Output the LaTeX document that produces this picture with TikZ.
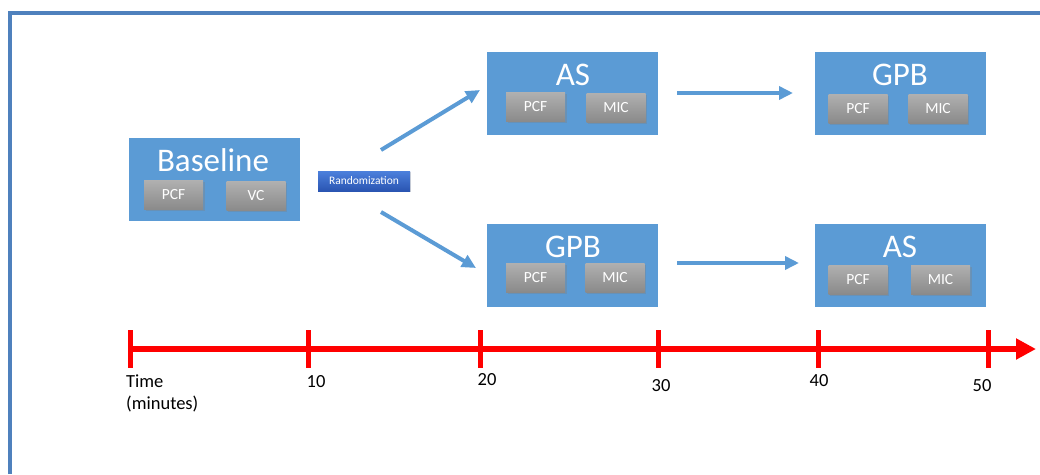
\documentclass[tikz,border=0pt]{standalone}
\usepackage{fontspec}
\setmainfont{Carlito}
\usetikzlibrary{arrows.meta,shadows}

\definecolor{panel}{HTML}{5B9BD5}
\definecolor{frameblue}{HTML}{4F81BD}
\definecolor{graytop}{HTML}{B0B0B0}
\definecolor{graybot}{HTML}{8A8A8A}
\definecolor{randtop}{HTML}{4C80DC}
\definecolor{randbot}{HTML}{2A55B2}

\begin{document}
\begin{tikzpicture}[x=1pt,y=-1pt,
  arm/.style={fill=panel,minimum width=171pt,minimum height=83pt,inner sep=0pt},
  title/.style={text=white,font=\fontsize{33}{36}\selectfont},
  test/.style={top color=graytop,bottom color=graybot,minimum width=59pt,minimum height=29pt,inner sep=0pt,
    text=white,font=\fontsize{15.5}{17}\selectfont,drop shadow={shadow xshift=1.5pt,shadow yshift=-1.5pt,opacity=.35}},
  flow/.style={panel,line width=4pt,-{Triangle[length=14pt,width=13pt]}},
  tickline/.style={red,line width=5pt},
  ticklabel/.style={font=\fontsize{18.5}{22}\selectfont}]
\useasboundingbox (0,0) rectangle (1040,474);
\draw[frameblue,line width=4pt] (10,474) -- (10,13) -- (1040,13);

% baseline block
\node[arm] (base) at (214.5,179.5) {};
\node[title] (base-t) at (213,160) {Baseline};
\node[test] (base-pcf) at (173.5,195) {PCF};
\node[test] (base-vc) at (256,196) {VC};
\node[top color=randtop,bottom color=randbot,minimum width=92pt,minimum height=20pt,inner sep=0pt,
  text=white,font=\fontsize{11.5}{12}\selectfont,drop shadow={shadow xshift=1pt,shadow yshift=-1pt,opacity=.3}]
  (rand) at (364,181) {Randomization};

% first period
\node[arm] (asA) at (572,93.5) {};
\node[title] (asA-t) at (573,75) {AS};
\node[test] (asA-pcf) at (535.5,107) {PCF};
\node[test] (asA-mic) at (616,107.5) {MIC};
\node[arm] (gpbB) at (572,265.5) {};
\node[title] (gpbB-t) at (573,247) {GPB};
\node[test] (gpbB-pcf) at (535.5,277.5) {PCF};
\node[test] (gpbB-mic) at (615,277.5) {MIC};

% second period
\node[arm] (gpbA) at (900.5,93.5) {};
\node[title] (gpbA-t) at (900,75) {GPB};
\node[test] (gpbA-pcf) at (858,108.5) {PCF};
\node[test] (gpbA-mic) at (938,108.5) {MIC};
\node[arm] (asB) at (900.5,265.5) {};
\node[title] (asB-t) at (900,247) {AS};
\node[test] (asB-pcf) at (858,279.5) {PCF};
\node[test] (asB-mic) at (940.5,279.5) {MIC};

% arrows
\coordinate (up0) at (381,150);
\coordinate (up1) at (480,90);
\coordinate (dn0) at (381,212);
\coordinate (dn1) at (476,268);
\coordinate (ta0) at (677,93);
\coordinate (ta1) at (793,93);
\coordinate (tb0) at (677,263);
\coordinate (tb1) at (799,263);
\draw[flow] (up0) -- (up1);
\draw[flow] (dn0) -- (dn1);
\draw[flow] (ta0) -- (ta1);
\draw[flow] (tb0) -- (tb1);

% time axis
\coordinate (t0) at (130,349);
\coordinate (tend) at (1036,349);
\draw[red,line width=6pt,-{Triangle[length=20pt,width=20pt]}] (t0) -- (tend);
\foreach \x in {130,308,480,658,818,988}
  \draw[tickline] (\x,330) -- (\x,368);
\node[ticklabel,anchor=north west,align=left,inner sep=0pt] (lab-time) at (126,375) {Time\\(minutes)};
\node[ticklabel] (lab10) at (316,382) {10};
\node[ticklabel] (lab20) at (487,380) {20};
\node[ticklabel] (lab30) at (661,386) {30};
\node[ticklabel] (lab40) at (819,381) {40};
\node[ticklabel] (lab50) at (982,386) {50};
\end{tikzpicture}
\end{document}
